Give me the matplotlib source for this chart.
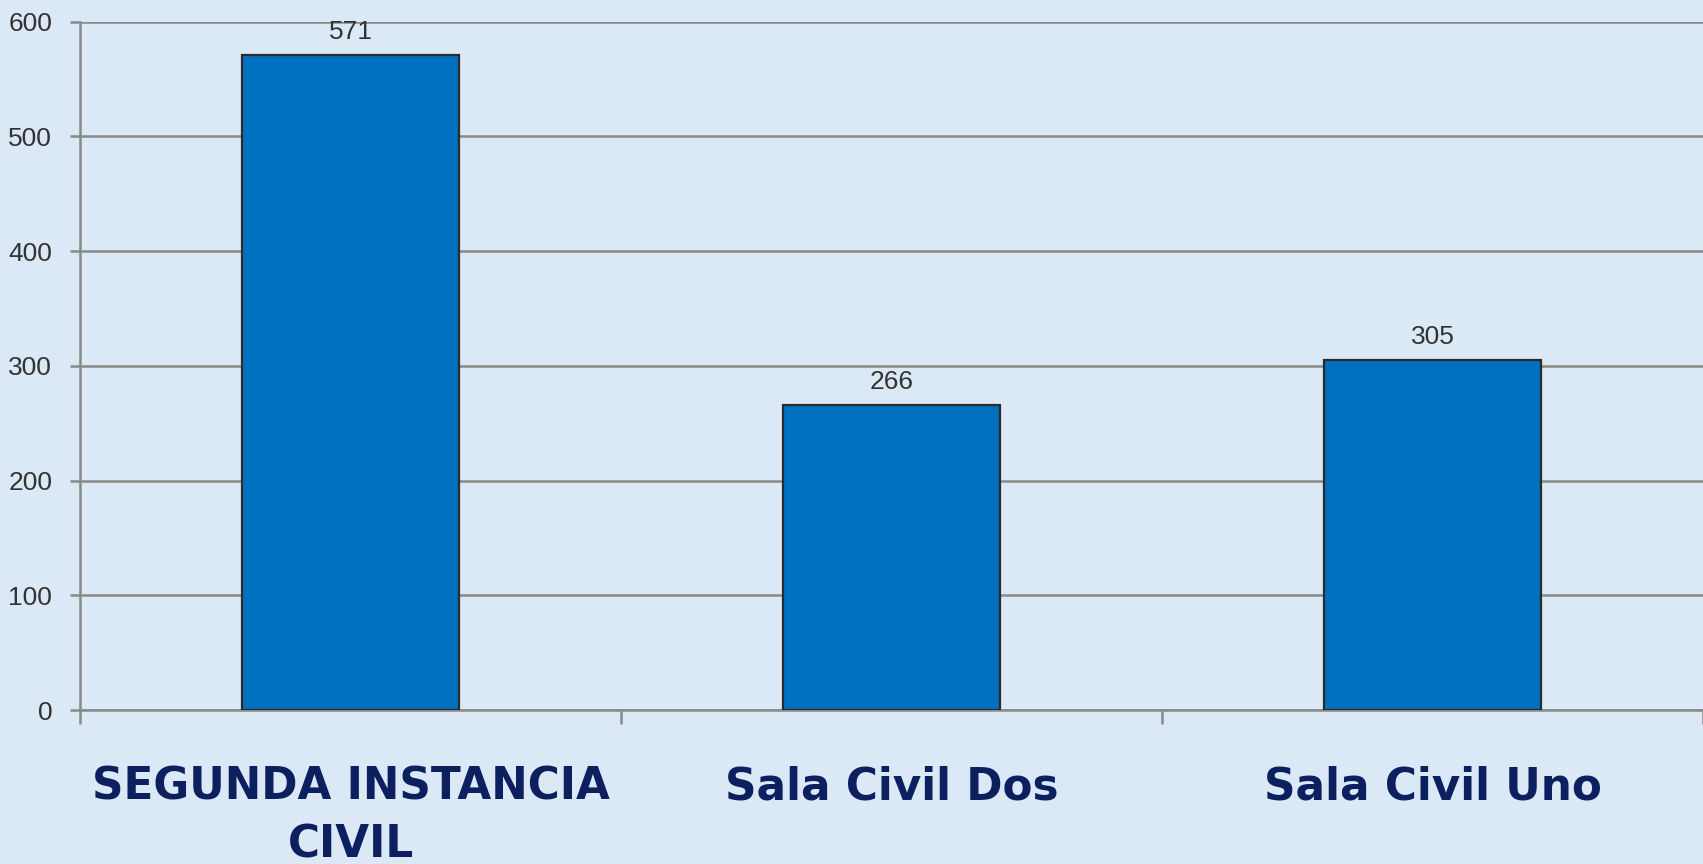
import matplotlib
matplotlib.use("Agg")
import matplotlib.pyplot as plt
from matplotlib.ticker import FixedLocator

categories = ["SEGUNDA INSTANCIA\nCIVIL", "Sala Civil Dos", "Sala Civil Uno"]
values = [571, 266, 305]
yticks = [0, 100, 200, 300, 400, 500, 600]

bg = "#dbe8f5"
fig = plt.figure(figsize=(17.03, 8.64), dpi=100, facecolor=bg)
ax = fig.add_axes([80/1703, 1-710/864, 1-80/1703, (710-21.7)/864])
ax.set_facecolor(bg)

x = list(range(len(categories)))
bars = ax.bar(x, values, width=0.4, color="#0070c0", edgecolor="#2b2b2b", linewidth=1.6, zorder=3)
for xi, v in zip(x, values):
    ax.annotate(str(v), (xi, v), xytext=(0, 8), textcoords="offset points",
                ha="center", va="bottom", fontsize=19, color="#333333",
                family="Liberation Sans")

ax.set_xlim(-0.5, len(categories) - 0.5)
ax.set_ylim(0, 600)
ax.set_yticks(yticks)
ax.yaxis.grid(True, color="#8a8a8a", linewidth=1.8, zorder=1)
ax.set_axisbelow(True)
for s in ["top", "right"]:
    ax.spines[s].set_visible(False)
for s in ["left", "bottom"]:
    ax.spines[s].set_color("#8a8a8a")
    ax.spines[s].set_linewidth(1.8)

ax.tick_params(axis="y", length=7, width=1.8, color="#8a8a8a", labelsize=19,
               labelcolor="#333333", pad=13)
for lab in ax.get_yticklabels():
    lab.set_family("Liberation Sans")

ax.set_xticks(x)
ax.set_xticklabels(categories, fontsize=31.5, fontweight="bold", color="#0c2060",
                   linespacing=1.45)
ax.tick_params(axis="x", which="major", length=0, pad=40)
ax.xaxis.set_minor_locator(FixedLocator([i - 0.5 for i in range(len(categories) + 1)]))
ax.tick_params(axis="x", which="minor", length=10, width=1.8, color="#8a8a8a")

fig.savefig("out.png", dpi=100, facecolor=bg)
